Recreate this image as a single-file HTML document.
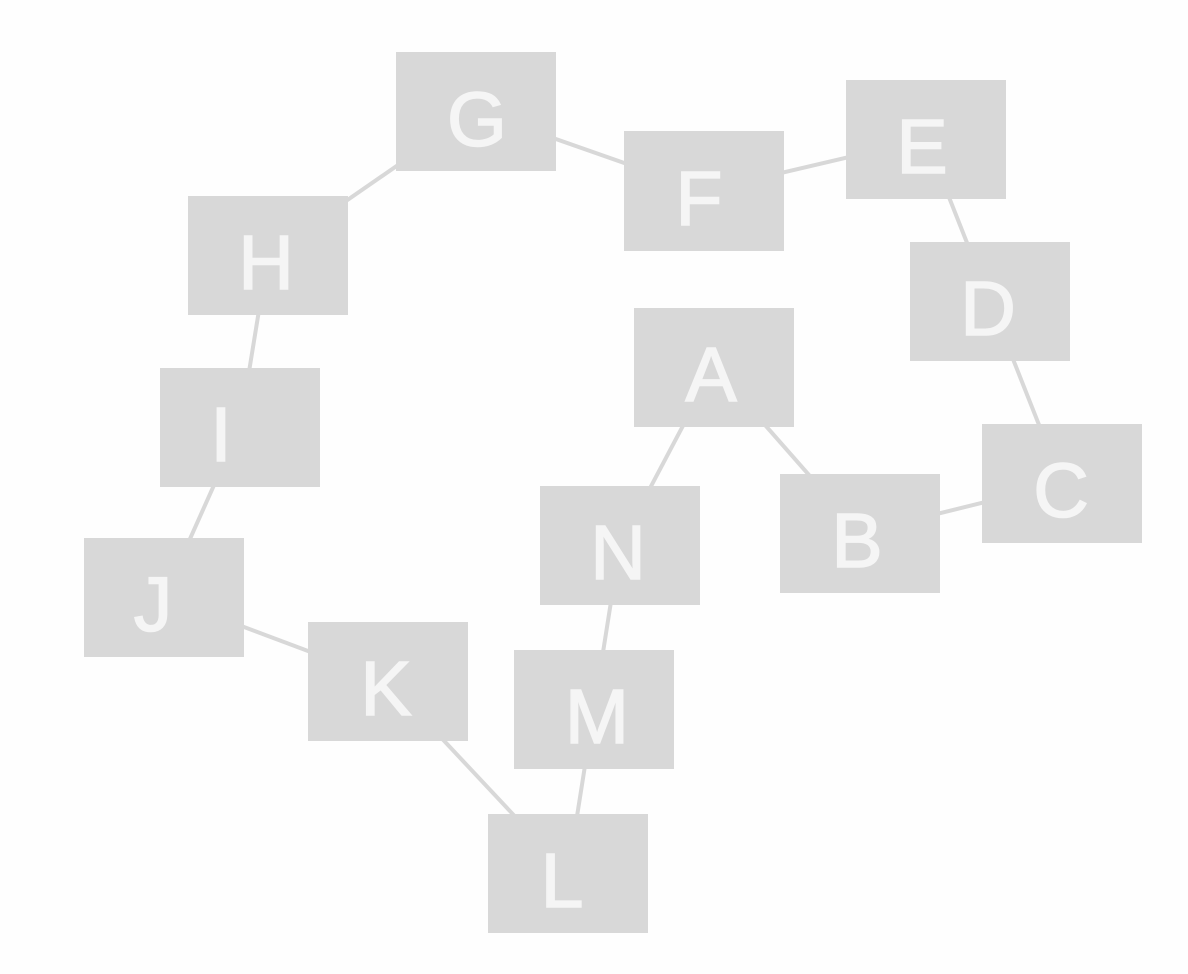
<!DOCTYPE html>
<html><head><meta charset="utf-8"><style>
html,body{margin:0;padding:0;background:#fefefe;}
svg{display:block;}
</style></head><body>
<svg width="1188" height="974" viewBox="0 0 1188 974" xmlns="http://www.w3.org/2000/svg">
<g stroke="#d8d8d8" stroke-width="4" fill="none">
<line x1="476" y1="111" x2="268" y2="255"/>
<line x1="476" y1="111" x2="704" y2="191"/>
<line x1="704" y1="191" x2="926" y2="139"/>
<line x1="926" y1="139" x2="990" y2="301"/>
<line x1="990" y1="301" x2="1062" y2="483"/>
<line x1="1062" y1="483" x2="860" y2="533"/>
<line x1="860" y1="533" x2="714" y2="367"/>
<line x1="714" y1="367" x2="620" y2="545"/>
<line x1="620" y1="545" x2="594" y2="709"/>
<line x1="594" y1="709" x2="568" y2="873"/>
<line x1="568" y1="873" x2="388" y2="681"/>
<line x1="388" y1="681" x2="164" y2="597"/>
<line x1="164" y1="597" x2="240" y2="427"/>
<line x1="240" y1="427" x2="268" y2="255"/>
</g>
<g fill="#d8d8d8">
<rect x="396" y="52" width="160" height="119"/>
<rect x="624" y="131" width="160" height="120"/>
<rect x="846" y="80" width="160" height="119"/>
<rect x="910" y="242" width="160" height="119"/>
<rect x="982" y="424" width="160" height="119"/>
<rect x="780" y="474" width="160" height="119"/>
<rect x="634" y="308" width="160" height="119"/>
<rect x="540" y="486" width="160" height="119"/>
<rect x="514" y="650" width="160" height="119"/>
<rect x="488" y="814" width="160" height="119"/>
<rect x="308" y="622" width="160" height="119"/>
<rect x="84" y="538" width="160" height="119"/>
<rect x="160" y="368" width="160" height="119"/>
<rect x="188" y="196" width="160" height="119"/>
</g>
<g fill="#f5f5f5" stroke="#f5f5f5" stroke-width="1.5" font-family="Liberation Sans, sans-serif" font-size="77" text-anchor="middle">
<text x="477" y="146">G</text>
<text x="699" y="225">F</text>
<text x="922" y="173">E</text>
<text x="988" y="335">D</text>
<text x="1061" y="517">C</text>
<text x="857" y="567">B</text>
<text x="711" y="401">A</text>
<text x="618" y="579">N</text>
<text x="597" y="743">M</text>
<text x="562" y="907">L</text>
<text x="386" y="715">K</text>
<text x="153" y="631">J</text>
<text x="221" y="461">I</text>
<text x="266" y="289">H</text>
</g>
</svg>
</body></html>
